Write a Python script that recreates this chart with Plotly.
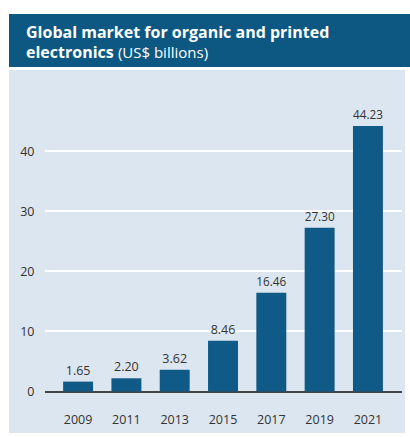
import plotly.graph_objects as go

years = [2009, 2011, 2013, 2015, 2017, 2019, 2021]
market_bn = [1.65, 2.20, 3.62, 8.46, 16.46, 27.30, 44.23]
value_labels = ["1.65", "2.20", "3.62", "8.46", "16.46", "27.30", "44.23"]
y_ticks = [0, 10, 20, 30, 40]

W, H = 410, 437
BAR = "#0f5a86"
PANEL = "#dce6f0"
TEXT = "#333333"
FONT = "Open Sans"


def px_x(p):
    return p / W


def px_y(p):
    return 1 - p / H


fig = go.Figure(
    go.Bar(
        x=years,
        y=market_bn,
        width=1.24,
        marker=dict(color=BAR, line=dict(width=0)),
        text=value_labels,
        textposition="outside",
        textfont=dict(family=FONT, size=12.5, color=TEXT),
        cliponaxis=False,
        hoverinfo="skip",
    )
)

shapes = [
    # header band
    dict(type="rect", xref="paper", yref="paper",
         x0=px_x(9), x1=px_x(410), y0=px_y(67), y1=px_y(14),
         fillcolor="#0c5883", line=dict(width=0), layer="below"),
    # light chart panel
    dict(type="rect", xref="paper", yref="paper",
         x0=px_x(9), x1=px_x(405), y0=px_y(433), y1=px_y(70),
         fillcolor=PANEL, line=dict(width=0), layer="below"),
]

annotations = [
    dict(xref="paper", yref="paper", x=px_x(24), y=px_y(32),
         xanchor="left", yanchor="middle", showarrow=False,
         text="<b>Global market for organic and printed</b>",
         font=dict(family=FONT, size=16, color="white")),
    dict(xref="paper", yref="paper", x=px_x(24), y=px_y(52),
         xanchor="left", yanchor="middle", showarrow=False,
         text="<b>electronics</b> <span style='font-size:15px'>(US$ billions)</span>",
         font=dict(family=FONT, size=16, color="white")),
]

fig.update_layout(
    width=W, height=H,
    margin=dict(l=0, r=0, t=0, b=0),
    paper_bgcolor="white",
    plot_bgcolor="rgba(0,0,0,0)",
    showlegend=False,
    shapes=shapes,
    annotations=annotations,
    xaxis=dict(
        domain=[px_x(45), px_x(402)],
        range=[2007.63, 2022.41],
        tickvals=years,
        ticktext=[str(y) for y in years],
        showgrid=False, zeroline=False, showline=False,
        ticks="outside", ticklen=8, tickcolor="rgba(0,0,0,0)",
        tickfont=dict(family=FONT, size=12.5, color=TEXT),
        fixedrange=True,
    ),
    yaxis=dict(
        domain=[px_y(400), px_y(100)],
        range=[-1.417, 48.58],
        tickvals=y_ticks,
        showgrid=True, gridcolor="white", gridwidth=1.5,
        zeroline=True, zerolinecolor="#444444", zerolinewidth=1.5,
        showline=False,
        ticks="outside", ticklen=7, tickcolor="rgba(0,0,0,0)",
        tickfont=dict(family=FONT, size=12.5, color=TEXT),
        fixedrange=True,
    ),
)

fig.write_html("out.html")
